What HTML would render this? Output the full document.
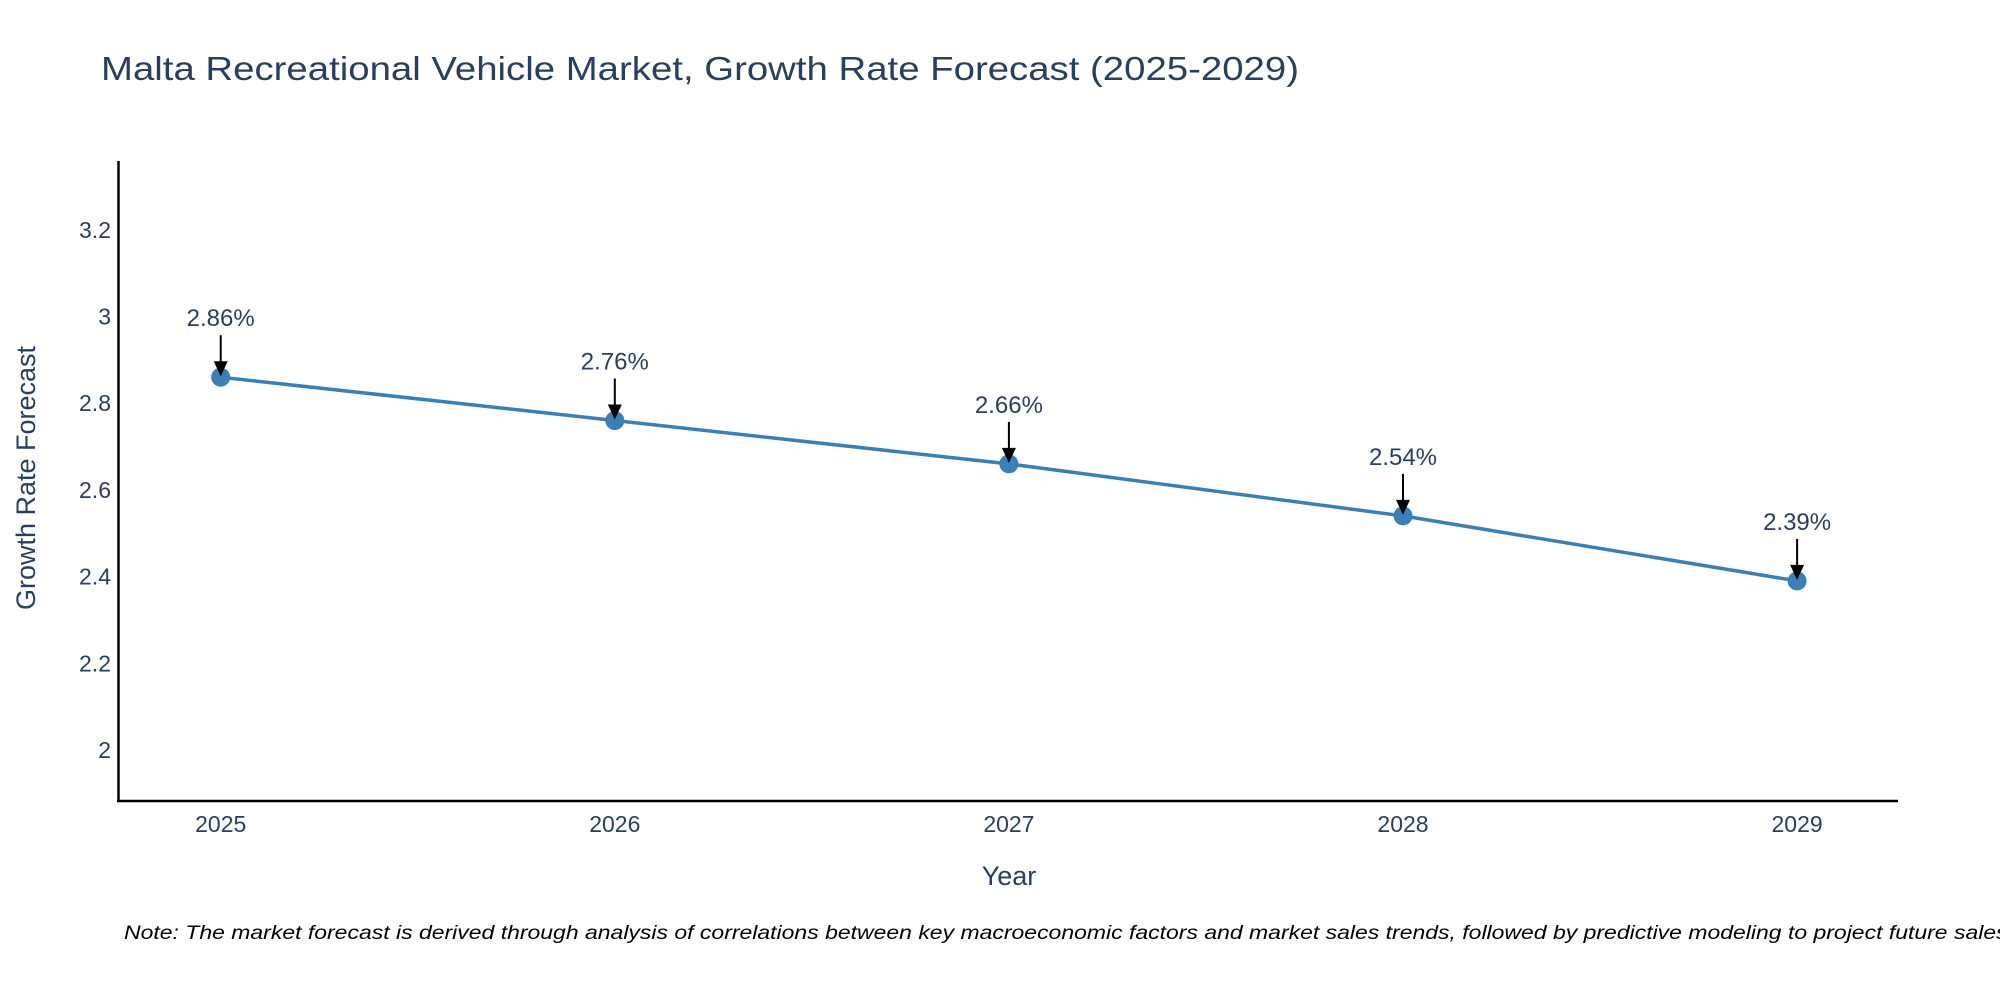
<!DOCTYPE html>
<html><head><meta charset="utf-8"><style>
html,body{margin:0;padding:0;background:#fff;}
svg{display:block;font-family:"Liberation Sans","DejaVu Sans",sans-serif;}
</style></head><body>
<svg id="chart" width="2000" height="1000" viewBox="0 0 2000 1000">
<text x="101" y="80" font-size="33" fill="#2a3f5f" textLength="1198" lengthAdjust="spacingAndGlyphs">Malta Recreational Vehicle Market, Growth Rate Forecast (2025-2029)</text>
<g id="yticks"></g>
<g id="xticks"></g>
<line x1="118.5" y1="161" x2="118.5" y2="802" stroke="#000" stroke-width="2.5"/>
<line x1="117" y1="801" x2="1898" y2="801" stroke="#000" stroke-width="2.5"/>
<text x="1009" y="885" font-size="27" fill="#2a3f5f" text-anchor="middle">Year</text>
<text transform="translate(35,478) rotate(-90)" font-size="27" fill="#2a3f5f" text-anchor="middle">Growth Rate Forecast</text>
<g id="series"></g>
<g id="annots"></g>
<text x="124" y="939" font-size="19" font-style="italic" fill="#000" textLength="1890" lengthAdjust="spacingAndGlyphs">Note: The market forecast is derived through analysis of correlations between key macroeconomic factors and market sales trends, followed by predictive modeling to project future sales.</text>
</svg>
<script>
const years = [2025, 2026, 2027, 2028, 2029];
const growth = [2.86, 2.76, 2.66, 2.54, 2.39];
const valueLabels = ["2.86%", "2.76%", "2.66%", "2.54%", "2.39%"];
const yTickValues = [2, 2.2, 2.4, 2.6, 2.8, 3, 3.2];
const yTickLabels = ["2", "2.2", "2.4", "2.6", "2.8", "3", "3.2"];

const NS = "http://www.w3.org/2000/svg";
function xs(v){ return 220.7 + (v - 2025) * 394.1; }
function ys(v){ return 750 - (v - 2) * 433.5; }
function mk(tag, attrs, parent){ const e = document.createElementNS(NS, tag); for (const k in attrs) e.setAttribute(k, attrs[k]); parent.appendChild(e); return e; }

const yg = document.getElementById('yticks');
yTickValues.forEach((v, i) => {
  const t = mk('text', {x: 111, y: ys(v) + 8, 'font-size': 23, fill: '#2a3f5f', 'text-anchor': 'end'}, yg);
  t.textContent = yTickLabels[i];
  
  
});
const xg = document.getElementById('xticks');
years.forEach(v => {
  const t = mk('text', {x: xs(v), y: 832, 'font-size': 23, fill: '#2a3f5f', 'text-anchor': 'middle'}, xg);
  t.textContent = String(v);
  
  
});

const sg = document.getElementById('series');
const pts = years.map((y, i) => xs(y) + ',' + ys(growth[i])).join(' ');
const pl = mk('polyline', {points: pts, fill: 'none', stroke: '#3a7fb5', 'stroke-width': 3.5, 'stroke-linejoin': 'round'}, sg);


years.forEach((y, i) => {
  const c = mk('circle', {cx: xs(y), cy: ys(growth[i]), r: 9.5, fill: '#3a7fb5'}, sg);
  
  
});

const ag = document.getElementById('annots');
years.forEach((y, i) => {
  const px = xs(y), py = ys(growth[i]);
  const ln = mk('line', {x1: px, y1: py - 42, x2: px, y2: py - 12, stroke: '#000', 'stroke-width': 2}, ag);
  
  
  const hd = mk('polygon', {points: (px-7)+','+(py-16)+' '+(px+7)+','+(py-16)+' '+px+','+(py-1), fill: '#000'}, ag);
  
  
  const t = mk('text', {x: px, y: py - 51, 'font-size': 24, fill: '#2a3f5f', 'text-anchor': 'middle'}, ag);
  t.textContent = valueLabels[i];
  
  
});
</script>
</body></html>
